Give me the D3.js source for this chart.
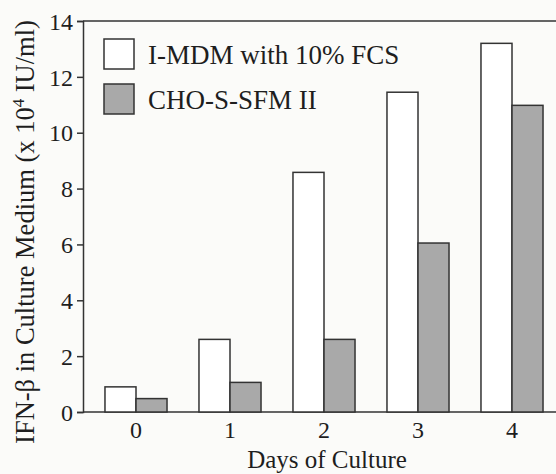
<!DOCTYPE html>
<html>
<head>
<meta charset="utf-8">
<script src="https://cdn.jsdelivr.net/npm/d3@7"></script>
<style>
  body { margin: 0; background: #fbfbf9; }
  svg text { font-family: "Liberation Serif", "Times New Roman", serif; fill: #1e1e1e; }
</style>
</head>
<body>
<script>
// data
var days = ["0", "1", "2", "3", "4"];
var series = ["I-MDM with 10% FCS", "CHO-S-SFM II"];
var mdmValues = [0.9, 2.6, 8.58, 11.45, 13.2];
var choValues = [0.48, 1.06, 2.6, 6.05, 10.98];
var yTicks = [0, 2, 4, 6, 8, 10, 12, 14];
var colors = ["#ffffff", "#a9a9a9"];

var W = 556, H = 474;
var plotLeft = 83, plotTop = 21, plotBottom = 412, plotRight = 556;

var svg = d3.select("body").append("svg")
  .attr("width", W)
  .attr("height", H);

var y = d3.scaleLinear().domain([0, 14]).range([plotBottom, plotTop]);
var x = d3.scaleBand().domain(days).range([89, 559]).paddingInner(0.34).paddingOuter(0.17);
var xs = d3.scaleBand().domain(series).range([0, x.bandwidth()]);

// y axis
var yAxis = svg.append("g")
  .attr("transform", "translate(" + plotLeft + ",0)")
  .call(d3.axisLeft(y).tickValues(yTicks).tickSize(6).tickPadding(4));
yAxis.select(".domain").attr("stroke", "#333").attr("stroke-width", 1.5);
yAxis.selectAll(".tick line").attr("stroke", "#333").attr("stroke-width", 1.5);
yAxis.selectAll("text")
  .style("font-size", "24px")
  .style("fill", "#1e1e1e")
  .attr("dy", "0.34em");

// top frame line and baseline
svg.append("line").attr("x1", plotLeft).attr("x2", plotRight).attr("y1", y(14)).attr("y2", y(14))
  .attr("stroke", "#333").attr("stroke-width", 1.5);
svg.append("line").attr("x1", plotLeft).attr("x2", plotRight).attr("y1", y(0)).attr("y2", y(0))
  .attr("stroke", "#333").attr("stroke-width", 1.5);

// x tick labels (no tick marks)
svg.append("g").selectAll("text").data(days).enter().append("text")
  .attr("x", function(d) { return x(d) + x.bandwidth() / 2; })
  .attr("y", 438)
  .attr("text-anchor", "middle")
  .style("font-size", "24px")
  .text(function(d) { return d; });

// bars
var rows = days.map(function(d, i) { return {day: d, vals: [mdmValues[i], choValues[i]]}; });
var groups = svg.append("g").selectAll("g").data(rows).enter().append("g")
  .attr("transform", function(d) { return "translate(" + x(d.day) + ",0)"; });
groups.selectAll("rect").data(function(d) {
    return d.vals.map(function(v, j) { return {s: series[j], v: v, c: colors[j]}; });
  }).enter().append("rect")
  .attr("x", function(d) { return xs(d.s); })
  .attr("width", xs.bandwidth())
  .attr("y", function(d) { return y(d.v); })
  .attr("height", function(d) { return y(0) - y(d.v); })
  .attr("fill", function(d) { return d.c; })
  .attr("stroke", "#333")
  .attr("stroke-width", 1.5);

// legend
var legend = svg.append("g").selectAll("g").data(series).enter().append("g")
  .attr("transform", function(d, i) { return "translate(104," + (39 + i * 45) + ")"; });
legend.append("rect")
  .attr("width", 30).attr("height", 30)
  .attr("fill", function(d, i) { return colors[i]; })
  .attr("stroke", "#333").attr("stroke-width", 1.5);
legend.append("text")
  .attr("x", 44).attr("y", 25)
  .style("font-size", "27px")
  .text(function(d) { return d; });

// axis titles
svg.append("text")
  .attr("x", 327).attr("y", 468)
  .attr("text-anchor", "middle")
  .style("font-size", "25px")
  .text("Days of Culture");

var yl = svg.append("text")
  .attr("transform", "translate(34,232) rotate(-90)")
  .attr("text-anchor", "middle")
  .style("font-size", "26.5px");
yl.append("tspan").text("IFN-\u03b2 in Culture Medium (x 10");
yl.append("tspan").attr("dy", -10).style("font-size", "17px").text("4");
yl.append("tspan").attr("dy", 10).text(" IU/ml)");
</script>
</body>
</html>
